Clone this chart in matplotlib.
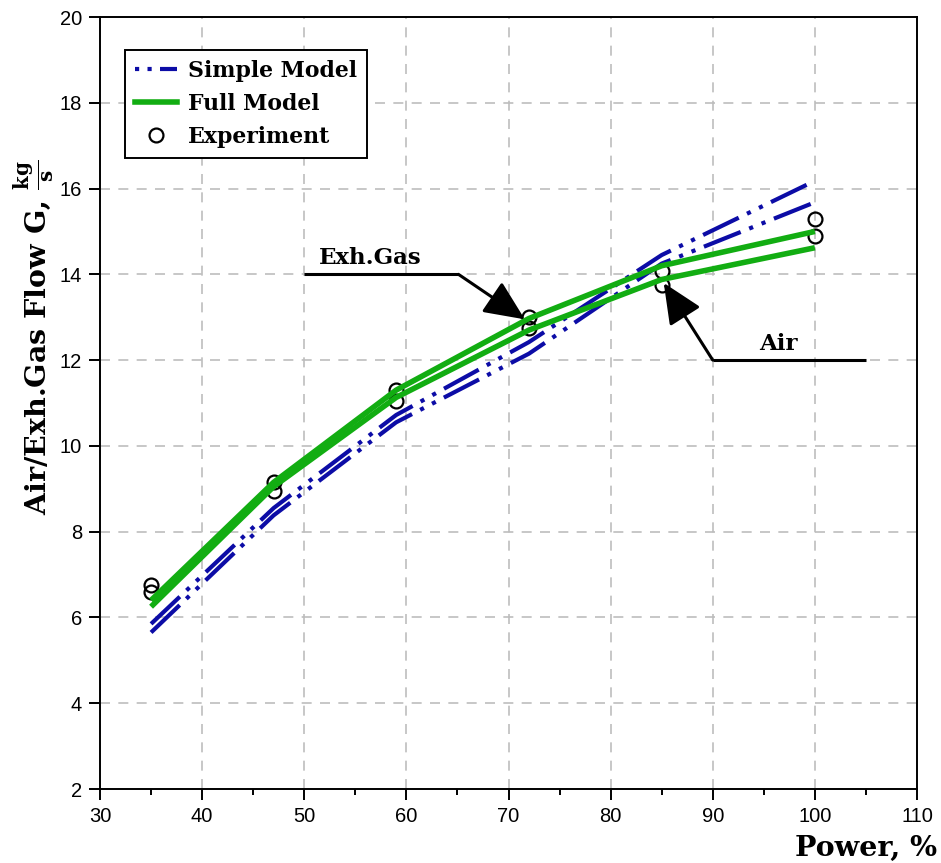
import matplotlib
matplotlib.use("Agg")
import matplotlib.pyplot as plt
from matplotlib.ticker import MultipleLocator
from matplotlib.lines import Line2D

# ---- data ----
power = [35, 47, 59, 72, 85, 100]
simple_exh = [5.85, 8.55, 10.72, 12.42, 14.45, 16.18]
simple_air = [5.65, 8.38, 10.55, 12.15, 14.25, 15.68]
full_exh = [6.4, 9.15, 11.3, 12.97, 14.2, 15.0]
full_air = [6.25, 9.05, 11.13, 12.7, 13.88, 14.62]
exp_exh = [6.75, 9.15, 11.3, 13.0, 14.08, 15.28]
exp_air = [6.6, 8.94, 11.05, 12.75, 13.76, 14.9]

legend_labels = ["Simple Model", "Full Model", "Experiment"]
x_ticks = [30, 40, 50, 60, 70, 80, 90, 100, 110]
y_ticks = [2, 4, 6, 8, 10, 12, 14, 16, 18, 20]

BLUE = "#0c0ca6"
GREEN = "#12ad12"
SERIF = "DejaVu Serif"
SANS = "Liberation Sans"
plt.rcParams["mathtext.fontset"] = "dejavuserif"

fig = plt.figure(figsize=(9.41, 8.63), dpi=100)
ax = fig.add_axes([100 / 941, 1 - 789 / 863, 817 / 941, 772 / 863])

dash_style = (0, (9.5, 2.2, 1.0, 2.2, 1.0, 2.2))
ax.plot(power, simple_exh, color=BLUE, lw=3.0, linestyle=dash_style,
        dash_capstyle="butt", zorder=3)
ax.plot(power, simple_air, color=BLUE, lw=3.0, linestyle=dash_style,
        dash_capstyle="butt", zorder=3)
ax.plot(power, exp_exh, linestyle="none", marker="o", ms=10, mfc="none",
        mec="black", mew=1.6, zorder=4)
ax.plot(power, exp_air, linestyle="none", marker="o", ms=10, mfc="none",
        mec="black", mew=1.6, zorder=4)
ax.plot(power, full_exh, color=GREEN, lw=4.0, zorder=5, solid_capstyle="butt")
ax.plot(power, full_air, color=GREEN, lw=4.0, zorder=5, solid_capstyle="butt")

ax.set_xlim(30, 110)
ax.set_ylim(2, 20)
ax.set_xticks(x_ticks)
ax.set_yticks(y_ticks)
ax.xaxis.set_minor_locator(MultipleLocator(5))
ax.grid(True, which="major", color="#bdbdbd", linestyle=(0, (6, 5)), lw=1.2)
ax.set_axisbelow(True)
for side in ["top", "right", "bottom", "left"]:
    ax.spines[side].set_linewidth(1.4)
ax.tick_params(axis="both", which="major", direction="out", length=8,
               width=1.4, labelsize=14.5, pad=5)
ax.tick_params(axis="x", which="minor", direction="out", length=4, width=1.4)
ax.tick_params(top=False, right=False)
for lab in ax.get_xticklabels() + ax.get_yticklabels():
    lab.set_family(SANS)

# annotations
arrow_style = "-|>,head_length=1.0,head_width=0.45"
ax.plot([50, 65.1], [14.0, 14.0], color="black", lw=2.2, zorder=6,
        solid_capstyle="butt")
ax.annotate("", xy=(71.6, 12.95), xytext=(65.1, 14.0),
            arrowprops=dict(arrowstyle=arrow_style, mutation_scale=25,
                            color="black", lw=2.2, shrinkA=0, shrinkB=0),
            zorder=6)
ax.text(56.5, 14.13, "Exh.Gas", family=SERIF, weight="bold", fontsize=16.5,
        ha="center", va="bottom")

ax.plot([90, 105], [12.0, 12.0], color="black", lw=2.2, zorder=6,
        solid_capstyle="butt")
ax.annotate("", xy=(85.2, 13.8), xytext=(90, 12.0),
            arrowprops=dict(arrowstyle=arrow_style, mutation_scale=25,
                            color="black", lw=2.2, shrinkA=0, shrinkB=0),
            zorder=6)
ax.text(96.4, 12.13, "Air", family=SERIF, weight="bold", fontsize=16.5,
        ha="center", va="bottom")

# legend
handles = [
    Line2D([], [], color=BLUE, lw=3.0,
           linestyle=(0, (1.0, 2.0, 1.0, 2.0, 6.0, 2.0))),
    Line2D([], [], color=GREEN, lw=4.0),
    Line2D([], [], linestyle="none", marker="o", ms=10, mfc="none",
           mec="black", mew=1.6),
]
leg = ax.legend(handles, legend_labels, loc="upper left",
                bbox_to_anchor=(0.031, 0.957), borderaxespad=0,
                prop=dict(family=SERIF, weight="bold", size=15.8),
                fancybox=False, framealpha=1, edgecolor="black",
                handlelength=1.9, labelspacing=0.5, borderpad=0.45,
                handletextpad=0.5)
leg.get_frame().set_linewidth(1.4)
leg.set_zorder(10)

# axis labels
fig.text(937 / 941, 1 - 848 / 863, "Power, %", family=SERIF, weight="bold",
         fontsize=20.5, ha="right", va="center")
fig.text(35 / 941, 1 - 515 / 863,
         r"Air/Exh.Gas Flow G, $\mathbf{\frac{kg}{s}}$",
         family=SERIF, weight="bold", fontsize=20.5, rotation=90,
         ha="center", va="bottom")

fig.savefig("out.png", dpi=100)
